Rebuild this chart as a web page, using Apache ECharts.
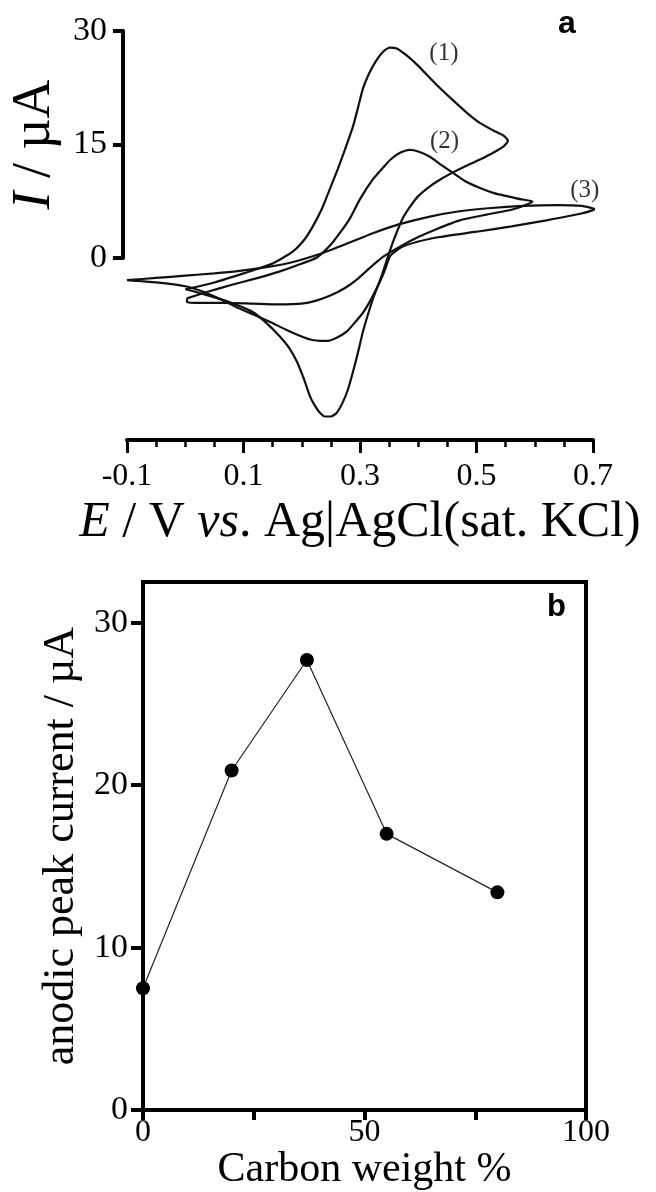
<!DOCTYPE html>
<html><head><meta charset="utf-8">
<script src="https://cdn.jsdelivr.net/npm/echarts@6/dist/echarts.min.js"></script>
<style>html,body{margin:0;padding:0;background:#fff}#c{width:656px;height:1192px}</style>
</head><body><div id="c"></div>
<script>
// ---- Panel a: cyclic voltammograms [E (V), I (uA)] ----
const curve1 = [[0.000,-4.1],[0.05,-3.2],[0.10,-2.0],[0.15,-0.7],[0.185,0.9],[0.205,2.5],[0.219,4.2],[0.235,6.6],[0.248,9.1],[0.262,11.8],[0.274,14.3],[0.288,17.4],[0.297,20.0],[0.305,22.4],[0.315,24.3],[0.327,26.0],[0.34,27.3],[0.351,27.8],[0.363,27.7],[0.378,26.9],[0.40,25.4],[0.43,23.0],[0.459,20.9],[0.482,19.3],[0.505,17.9],[0.528,16.9],[0.548,16.1],[0.554,15.5],[0.547,14.8],[0.528,13.9],[0.505,13.0],[0.48,12.1],[0.459,11.3],[0.44,10.5],[0.42,9.5],[0.40,8.2],[0.386,6.8],[0.373,5.2],[0.363,3.4],[0.355,1.8],[0.347,0.0],[0.339,-1.9],[0.331,-3.6],[0.322,-5.4],[0.313,-7.6],[0.305,-9.7],[0.297,-12.3],[0.288,-15.0],[0.279,-17.4],[0.27,-19.1],[0.26,-20.4],[0.25,-20.9],[0.24,-20.9],[0.23,-20.3],[0.222,-19.4],[0.214,-18.2],[0.204,-16.0],[0.192,-13.7],[0.178,-11.8],[0.162,-10.3],[0.14,-8.6],[0.116,-7.1],[0.09,-6.2],[0.06,-5.4],[0.03,-4.7],[0.000,-4.1]];
const curve2 = [[0.003,-5.3],[0.04,-4.4],[0.08,-3.5],[0.12,-2.7],[0.16,-1.8],[0.19,-1.0],[0.226,0.1],[0.25,1.8],[0.268,3.6],[0.283,5.3],[0.30,7.8],[0.322,10.4],[0.339,11.9],[0.352,13.0],[0.368,13.9],[0.385,14.3],[0.40,14.1],[0.42,13.4],[0.44,12.3],[0.459,11.3],[0.48,10.2],[0.505,9.3],[0.53,8.6],[0.552,8.2],[0.575,7.8],[0.596,7.5],[0.58,6.9],[0.56,6.4],[0.52,5.8],[0.471,5.0],[0.43,3.8],[0.40,2.8],[0.37,1.6],[0.34,0.2],[0.315,-1.4],[0.295,-2.8],[0.275,-3.9],[0.25,-4.9],[0.225,-5.6],[0.20,-6.0],[0.16,-6.1],[0.116,-6.0],[0.07,-5.9],[0.03,-5.9],[0.003,-5.8],[0.003,-5.3]];
const curve3 = [[-0.1,-2.9],[-0.05,-2.6],[0.0,-2.3],[0.05,-2.0],[0.09,-1.7],[0.145,-1.1],[0.18,-0.6],[0.236,0.7],[0.28,2.0],[0.322,3.3],[0.368,4.5],[0.42,5.5],[0.471,6.2],[0.52,6.6],[0.58,6.9],[0.64,7.0],[0.68,6.9],[0.703,6.5],[0.68,5.9],[0.62,5.0],[0.56,4.2],[0.50,3.5],[0.437,2.8],[0.40,2.2],[0.37,1.4],[0.352,0.3],[0.343,-1.5],[0.336,-2.8],[0.329,-3.9],[0.317,-5.7],[0.305,-7.2],[0.29,-8.6],[0.277,-9.7],[0.26,-10.5],[0.245,-10.9],[0.232,-10.9],[0.218,-10.8],[0.202,-10.4],[0.175,-9.5],[0.145,-8.4],[0.116,-7.4],[0.089,-6.5],[0.06,-5.4],[0.03,-4.4],[0.0,-3.7],[-0.05,-3.2],[-0.1,-2.9]];
const curveLabels = ['(1)','(2)','(3)'];
const curveLabelPos = [[0.444,27.1],[0.445,15.4],[0.686,9.0]];
const eTicks = [-0.1,0.1,0.3,0.5,0.7];
const iTicks = [0,15,30];

// ---- Panel b: anodic peak current vs carbon weight ----
const carbonWeight = [0,20,37,55,80];
const peakCurrent = [7.5,20.9,27.7,17.0,13.4];
const wtTicks = [0,50,100];
const peakTicks = [0,10,20,30];

const SERIF = 'Liberation Serif';
const BLACK = '#000';
const chart = echarts.init(document.getElementById('c'), null, {renderer:'canvas'});

const labelSeries = {
  type:'scatter', xAxisIndex:0, yAxisIndex:0, symbolSize:0, silent:true,
  data: curveLabels.map((t,i)=>({value:curveLabelPos[i], name:t})),
  label:{show:true, position:'inside', formatter:p=>p.name, fontFamily:SERIF, fontSize:25, color:BLACK}
};

chart.setOption({
  animation:false,
  backgroundColor:'#fff',
  grid:[
    {left:127, top:31, width:466, height:409},
    {left:127, top:31, width:466, height:227},
    {left:143, top:582, width:443, height:531, show:true, borderColor:BLACK, borderWidth:4}
  ],
  xAxis:[
    {gridIndex:0, type:'value', min:-0.1, max:0.7, interval:0.2,
     axisLine:{onZero:false, lineStyle:{color:BLACK, width:4}},
     axisTick:{length:13, lineStyle:{color:BLACK, width:3}},
     minorTick:{show:true, splitNumber:4, length:7, lineStyle:{color:BLACK, width:2.5}},
     splitLine:{show:false},
     axisLabel:{margin:21, fontFamily:SERIF, fontSize:32, color:BLACK,
       formatter:v=>{const f=eTicks.find(t=>Math.abs(t-v)<1e-6); return f===undefined?'':f.toFixed(1);}},
     name:'{i|E} / V {i|vs}. Ag|AgCl(sat. KCl)', nameLocation:'middle', nameGap:58,
     nameTextStyle:{fontFamily:SERIF, fontSize:50, color:BLACK,
       rich:{i:{fontFamily:SERIF, fontSize:50, fontStyle:'italic', color:BLACK}}}},
    {gridIndex:1, type:'value', min:-0.1, max:0.7, show:false},
    {gridIndex:2, type:'value', min:0, max:100, interval:25,
     axisLine:{onZero:false, lineStyle:{color:BLACK, width:4}},
     axisTick:{length:10, lineStyle:{color:BLACK, width:4}},
     splitLine:{show:false},
     axisLabel:{margin:6, fontFamily:SERIF, fontSize:32, color:BLACK,
       formatter:v=>wtTicks.includes(v)?String(v):''},
     name:'Carbon weight %', nameLocation:'middle', nameGap:36,
     nameTextStyle:{fontFamily:SERIF, fontSize:42, color:BLACK}}
  ],
  yAxis:[
    {gridIndex:0, type:'value', min:-24, max:30, show:false},
    {gridIndex:1, type:'value', min:0, max:30, interval:15, offset:13,
     axisLine:{show:true, onZero:false, lineStyle:{color:BLACK, width:4}},
     axisTick:{show:true, length:10, lineStyle:{color:BLACK, width:4}},
     splitLine:{show:false},
     axisLabel:{margin:16, fontFamily:SERIF, fontSize:34, color:BLACK,
       formatter:v=>iTicks.includes(v)?String(v):''},
     name:'{i|I} / µA', nameLocation:'middle', nameGap:54,
     nameTextStyle:{fontFamily:SERIF, fontSize:54, color:BLACK,
       rich:{i:{fontFamily:SERIF, fontSize:54, fontStyle:'italic', color:BLACK}}}},
    {gridIndex:2, type:'value', min:0, max:32.5, interval:10,
     axisLine:{show:true, onZero:false, lineStyle:{color:BLACK, width:4}},
     axisTick:{show:true, length:12, lineStyle:{color:BLACK, width:4}, customValues:peakTicks},
     splitLine:{show:false},
     axisLabel:{margin:15, fontFamily:SERIF, fontSize:34, color:BLACK, customValues:peakTicks,
       formatter:v=>peakTicks.includes(v)?String(v):''},
     name:'anodic peak current / µA', nameLocation:'middle', nameGap:52,
     nameTextStyle:{fontFamily:SERIF, fontSize:44, color:BLACK}}
  ],
  graphic:[
    {type:'text', left:558, top:8, style:{text:'a', font:'bold 32px "Liberation Sans"', fill:BLACK}},
    {type:'text', left:547, top:592, style:{text:'b', font:'bold 31px "Liberation Sans"', fill:BLACK}}
  ],
  series:[
    {type:'line', xAxisIndex:0, yAxisIndex:0, data:curve1, showSymbol:false, smooth:0.2,
     lineStyle:{color:'#111', width:2.2}, silent:true},
    {type:'line', xAxisIndex:0, yAxisIndex:0, data:curve2, showSymbol:false, smooth:0.2,
     lineStyle:{color:'#111', width:2.2}, silent:true},
    {type:'line', xAxisIndex:0, yAxisIndex:0, data:curve3, showSymbol:false, smooth:0.2,
     lineStyle:{color:'#111', width:2.2}, silent:true},
    labelSeries,
    {type:'line', xAxisIndex:2, yAxisIndex:2, data:carbonWeight.map((w,i)=>[w,peakCurrent[i]]),
     symbol:'circle', symbolSize:14, itemStyle:{color:BLACK},
     lineStyle:{color:'#222', width:1.2}, silent:true}
  ]
});
</script></body></html>
